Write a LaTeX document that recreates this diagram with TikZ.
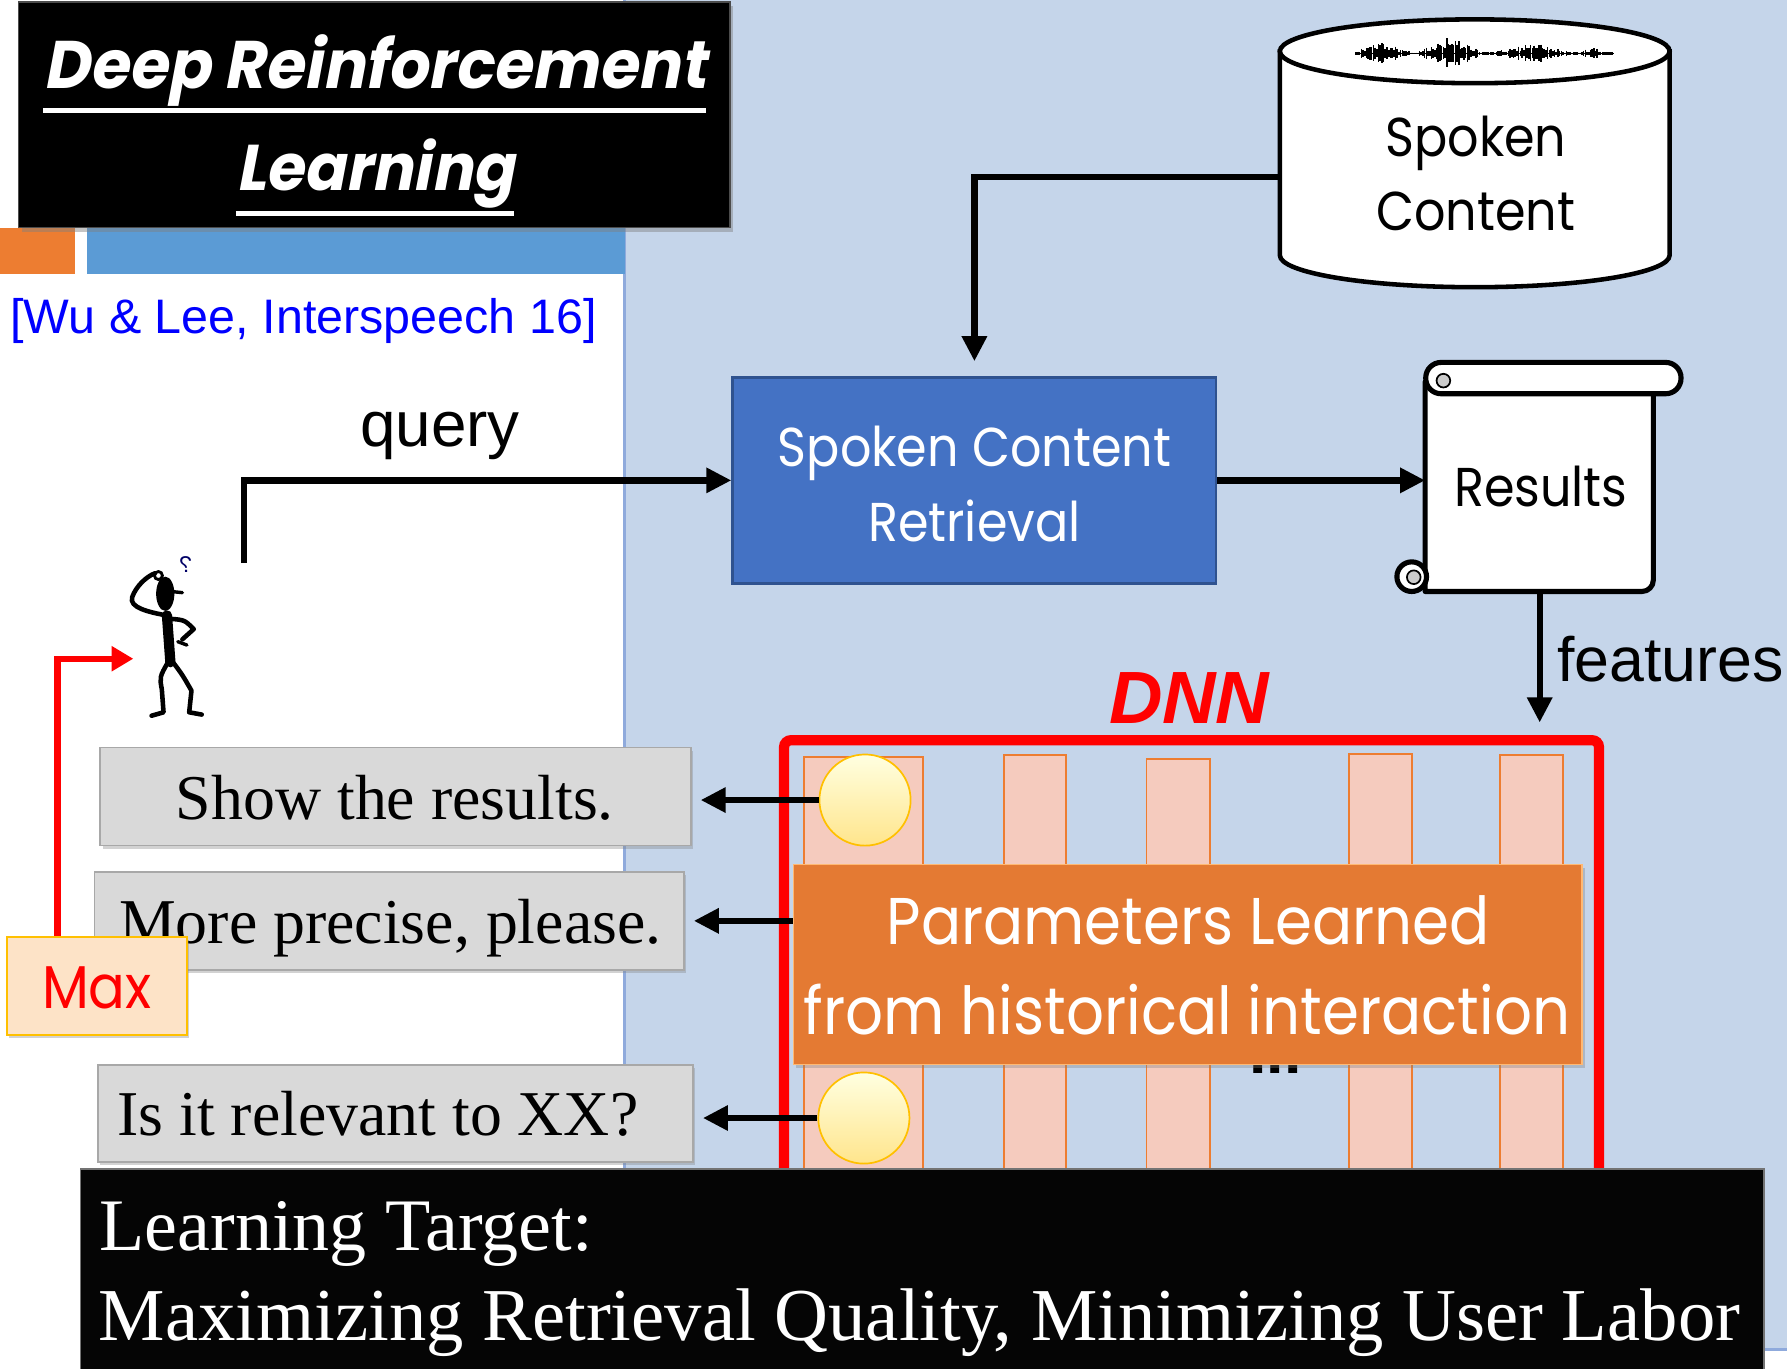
\documentclass[tikz,border=0pt]{standalone}
\usepackage{fontspec}
\usepackage{graphicx}
\usetikzlibrary{arrows.meta,shadows,calc}
\setmainfont{Liberation Serif}
\newfontfamily\arial{Liberation Sans}
\newfontfamily\gfont[FakeStretch=0.9]{Poppins}
\newfontfamily\tfont[FakeSlant=0.2]{Poppins}

\definecolor{panel}{RGB}{197,213,234}
\definecolor{panelline}{RGB}{143,170,220}
\definecolor{accOrange}{RGB}{237,125,49}
\definecolor{accBlue}{RGB}{91,155,213}
\definecolor{scrfill}{RGB}{68,114,196}
\definecolor{scrline}{RGB}{47,82,143}
\definecolor{colfill}{RGB}{245,203,190}
\definecolor{colline}{RGB}{237,125,49}
\definecolor{paramfill}{RGB}{228,122,51}
\definecolor{grayfill}{RGB}{217,217,217}
\definecolor{grayline}{RGB}{168,168,168}
\definecolor{maxfill}{RGB}{253,227,199}
\definecolor{gold}{RGB}{255,192,0}
\definecolor{citeblue}{RGB}{0,0,255}

\tikzset{
  arr/.style={line width=5.5pt, -{Triangle[length=22pt,width=21pt]}},
  redarr/.style={draw=red, line width=5.5pt, -{Triangle[length=19pt,width=21pt]}},
  softshadow/.style={drop shadow={shadow xshift=2pt, shadow yshift=-3pt, opacity=0.35}},
  graybox/.style={fill=grayfill, draw=grayline, line width=1.5pt, inner sep=0pt, softshadow},
  graytext/.style={anchor=base, inner sep=0pt, font=\fontsize{56}{60}\selectfont},
  scrbox/.style={fill=scrfill, draw=scrline, line width=2.5pt, inner sep=0pt},
  gtext/.style={anchor=base, inner sep=0pt, font=\gfont\fontsize{48}{56}\selectfont},
  ptext/.style={anchor=base, inner sep=0pt, text=white, font=\gfont\fontsize{58}{66}\selectfont},
  colbar/.style={fill=colfill, draw=colline, line width=1.5pt, inner sep=0pt, anchor=north, minimum height=460pt},
  unit/.style={circle, minimum size=80pt, inner sep=0pt, draw=gold, line width=1.5pt, top color=yellow!12!white, bottom color=yellow!55!orange!45!white},
  limb/.style={line width=4pt, line cap=round, line join=round},
}

\begin{document}
\begin{tikzpicture}[x=1pt, y=-1pt]
\useasboundingbox (0,0) rectangle (1568,1201);
\clip (0,0) rectangle (1568,1201);

% slide background and side panel
\fill[white] (0,0) rectangle (1568,1201);
\fill[panel] (548,0) rectangle (1568,1184);
\draw[panelline, line width=2pt] (548,0) -- (548,1184) -- (1568,1184);

% header band
\fill[accOrange] (0,200) rectangle (65.5,240.5);
\fill[accBlue] (76.3,200) rectangle (548,240.5);

% title block
\node[fill=black, draw=black!70, line width=1pt, inner sep=0pt,
      minimum width=624pt, minimum height=198pt,
      drop shadow={shadow xshift=3pt, shadow yshift=-4pt, opacity=0.45}] (title) at (328.5,100.7) {};
\node[anchor=south west, inner sep=0pt, text=white] (titleA) at (38,93.6)
  {\resizebox*{581pt}{63pt}{\tfont\bfseries Deep Reinforcement}};
\node[anchor=south west, inner sep=0pt, text=white] (titleB) at (207,183)
  {\resizebox*{244pt}{61pt}{\tfont\bfseries Learning}};
\draw[white, line width=4.4pt] (titleA.south west |- 0,97.2) -- (titleA.south east |- 0,97.2);
\draw[white, line width=4.4pt] (titleB.south west |- 0,187.5) -- (titleB.south east |- 0,187.5);

% reference
\node[anchor=base west, inner sep=0pt, text=citeblue, font=\arial\fontsize{42.5}{50}\selectfont]
  (cite) at (9,292.5) {[Wu \& Lee, Interspeech 16]};

% spoken content database
\draw[line width=4pt, fill=white] (1123,45) -- (1123,224)
  arc[start angle=180, end angle=0, x radius=171, y radius=28] -- (1465,45) -- cycle;
\draw[line width=4pt, fill=white] (1294,45) ellipse[x radius=171, y radius=28];
\pgfmathsetseed{42}
\foreach \k in {0,...,150} {
  \pgfmathsetmacro\xx{1190+1.5*\k}
  \pgfmathsetmacro\amp{1.6+13*max(0,1-abs(\xx-1272)/30)+9*max(0,1-abs(\xx-1213)/26)+8*max(0,1-abs(\xx-1345)/32)+4*max(0,1-abs(\xx-1398)/13)}
  \pgfmathsetmacro\aa{\amp*(0.3+0.7*rnd)}
  \draw[line width=1.4pt] (\xx,47-\aa) -- (\xx,47+0.9*\aa);
}
\draw[line width=1pt] (1190,47) -- (1416,47);
\node[gtext] (dbA) at (1295,137.5) {Spoken};
\node[gtext] (dbB) at (1295,202) {Content};
\coordinate (dbport) at (1123,155);

% retrieval engine
\node[scrbox, minimum width=424pt, minimum height=180.5pt] (scr) at (855,421.5) {};
\node[gtext, text=white] (scrA) at (855,409) {Spoken Content};
\node[gtext, text=white] (scrB) at (855,475.3) {Retrieval};

% results scroll
\draw[line width=4.5pt, fill=white, line join=round]
  (1250.5,335) -- (1250.5,519) -- (1440,519) [rounded corners=10pt] -- (1450.7,519) -- (1450.7,335) [sharp corners] -- cycle;
\draw[line width=4.5pt, fill=white] (1238.7,506) circle[radius=13];
\draw[line width=1.5pt, fill=black!20] (1240.5,506.5) circle[radius=6];
\draw[line width=4.5pt, fill=white, rounded corners=13.5pt] (1251,318) rectangle (1475,345.5);
\draw[line width=1.5pt, fill=black!20] (1266.5,334) circle[radius=6];
\node[gtext] (res) at (1352,444.6) {Results};
\coordinate (resin) at (1250.5,421.5);
\coordinate (resout) at (1351,519);

% user
\coordinate (qstart) at (214,494);
\fill[black] (145,521) ellipse[x radius=8, y radius=15];
\draw[limb, line width=3pt] (150,519) -- (160,520);
\draw[limb] (146,540) .. controls (130,537) and (113,533) .. (116,524)
  .. controls (119,515) and (128,506) .. (136,503);
\draw[line width=2.5pt] (139,505) circle[radius=3.5];
\draw[line width=9pt, line cap=round] (146.5,540) -- (149.5,581);
\draw[limb] (150,543) .. controls (162,544) .. (170,552) -- (160,561);
\draw[limb, line width=3pt] (156,563) -- (164,566);
\draw[limb] (148,580) .. controls (140,594) .. (142,605) -- (143.5,625) -- (133,628);
\draw[limb] (151,580) .. controls (160,592) .. (168,606) -- (166,625) -- (177,627);
\node[inner sep=0pt, xscale=-1, text=blue!40!black, font=\arial\fontsize{20}{22}\selectfont] (qmark) at (163,495) {?};
\coordinate (user) at (117,578);

% query path
\node[anchor=base, inner sep=0pt, font=\arial\fontsize{56}{60}\selectfont] (qlabel) at (386,392) {query};
\draw[arr] (qstart) |- (scr.west);
\draw[arr, shorten >=13pt] (dbport) -| (scr.north);
\draw[arr] (scr.east) -- (resin);

% policy network
\node[anchor=base, inner sep=0pt, text=red, font=\arial\bfseries\itshape\fontsize{65}{70}\selectfont] (dnnlabel) at (1043.5,635) {DNN};
\node[colbar, minimum width=104pt] (col1) at (757.6,663.3) {};
\node[colbar, minimum width=54.5pt] (col2) at (908.3,662) {};
\node[colbar, minimum width=56pt] (col3) at (1034,665.4) {};
\node[colbar, minimum width=55.4pt] (col4) at (1211.3,661) {};
\node[colbar, minimum width=55pt] (col5) at (1343.7,662) {};
\node[draw=red, line width=9pt, rounded corners=6pt, inner sep=0pt, anchor=north west,
      minimum width=715pt, minimum height=470pt] (dnn) at (683.5,645) {};
\node[anchor=base, inner sep=0pt, font=\arial\bfseries\fontsize{55}{60}\selectfont] (dots) at (1119,942) {\smash{...}};
\node[unit] (u1) at (759,702) {};
\node[unit] (u2) at (758,981) {};
\node[fill=paramfill, draw=orange!55!white, line width=1.5pt, inner sep=0pt,
      minimum width=692pt, minimum height=175.5pt, softshadow] (params) at (1042.3,846.2) {};
\node[ptext] (pA) at (1042.5,829) {Parameters Learned};
\node[ptext] (pB) at (1041.5,908) {from historical interaction};

\draw[arr, shorten >=11pt] (resout) -- (resout |- dnn.north);
\node[anchor=base west, inner sep=0pt, font=\arial\fontsize{55}{60}\selectfont] (feat) at (1366,598) {features};

% system actions
\node[graybox, minimum width=518pt, minimum height=86pt] (b1) at (347,699) {};
\node[graytext] (t1) at (346.5,718.7) {Show the results.};
\node[graybox, minimum width=517pt, minimum height=86pt] (b2) at (341.5,808) {};
\node[graytext] (t2) at (342.5,827.7) {More precise, please.};
\node[graybox, minimum width=522pt, minimum height=85pt] (b3) at (347,977) {};
\node[graytext] (t3) at (331.5,995.9) {Is it relevant to XX?};

\draw[arr, shorten >=8pt] (u1.west) -- (u1.west -| b1.east);
\draw[arr, shorten >=8pt] (params.west |- b2.east) -- (b2.east);
\draw[arr, shorten >=8pt] (u2.west) -- (u2.west -| b3.east);

% reward
\node[fill=maxfill, draw=gold, line width=2pt, inner sep=0pt, minimum width=158pt, minimum height=86pt, softshadow] (maxb) at (85,865) {};
\node[anchor=base, inner sep=0pt, text=red, font=\gfont\fontsize{53}{56}\selectfont] (maxt) at (85,884.7) {Max};
\draw[redarr] ($(maxb.north)+(-34.6,0)$) |- (user);

% learning target
\node[fill=black!98, draw=black!55, line width=1.5pt, inner sep=0pt, anchor=north west,
      minimum width=1477pt, minimum height=200pt] (target) at (70,1025) {};
\node[anchor=base west, inner sep=0pt, text=white, font=\fontsize{65}{70}\selectfont] (tgA) at (87,1096.8) {Learning Target:};
\node[anchor=base west, inner sep=0pt, text=white, font=\fontsize{65.5}{70}\selectfont] (tgB) at (86.5,1176.3) {Maximizing Retrieval Quality, Minimizing User Labor};
\end{tikzpicture}
\end{document}
